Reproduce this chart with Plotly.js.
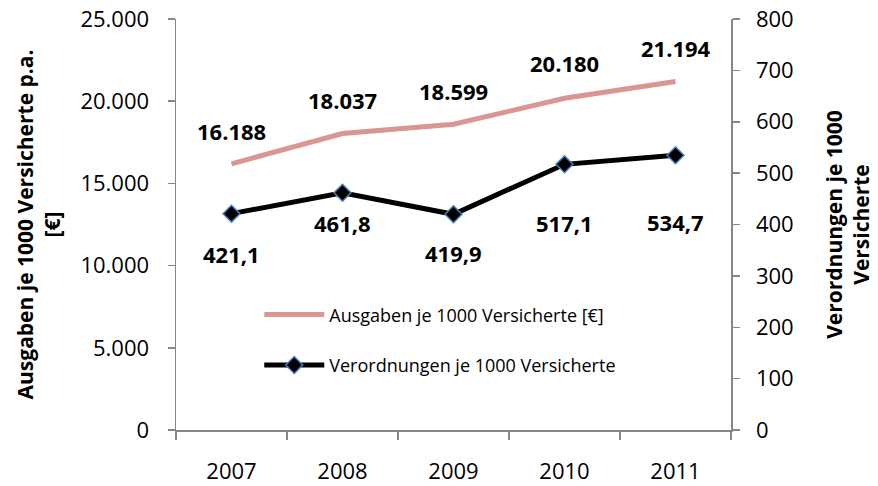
<!DOCTYPE html>
<html><head><meta charset="utf-8">
<script src="https://cdn.plot.ly/plotly-3.0.1.min.js"></script>
<style>html,body{margin:0;padding:0;background:#fff}#chart{width:878px;height:486px}</style>
</head><body><div id="chart"></div>
<script>
const years = ['2007','2008','2009','2010','2011'];
const ausgaben = [16188, 18037, 18599, 20180, 21194];
const verordnungen = [421.1, 461.8, 419.9, 517.1, 534.7];
const nameAusgaben = 'Ausgaben je 1000 Versicherte [€]';
const nameVerordnungen = 'Verordnungen je 1000 Versicherte';

const FONT = 'Open Sans, Liberation Sans, sans-serif';
const axisGray = '#868686';
const ausShift = [33, 33, 33, 35, 34];
const verShift = [-40, -30, -39, -59, -67];

const traces = [
  {x: years, y: ausgaben, name: nameAusgaben, type: 'scatter', mode: 'lines',
   line: {color: '#d99694', width: 5}, legendgroup: 'a', hoverinfo: 'skip'},
  {x: years, y: verordnungen, name: nameVerordnungen, type: 'scatter', mode: 'lines+markers',
   yaxis: 'y2', line: {color: '#000000', width: 5}, legendgroup: 'b',
   marker: {symbol: 'diamond', size: 13, color: '#000000', line: {color: '#4a7ebb', width: 1.5}}, hoverinfo: 'skip'}
];

const fmtDE = (v, d) => {
  const s = v.toFixed(d).split('.');
  const int = s[0].replace(/\B(?=(\d{3})+(?!\d))/g, '.');
  return d > 0 ? int + ',' + s[1] : int;
};

const annotations = [];
years.forEach((yr, i) => {
  annotations.push({x: i, y: ausgaben[i], xref: 'x', yref: 'y', text: '<b>' + fmtDE(ausgaben[i], 0) + '</b>',
    showarrow: false, yshift: ausShift[i], font: {family: FONT, size: 22, color: '#000'}});
  annotations.push({x: i, y: verordnungen[i], xref: 'x', yref: 'y2', text: '<b>' + fmtDE(verordnungen[i], 1) + '</b>',
    showarrow: false, yshift: verShift[i], font: {family: FONT, size: 22, color: '#000'}});
});

const layout = {
  width: 878, height: 486,
  margin: {l: 176, r: 147, t: 19, b: 56},
  paper_bgcolor: '#fff', plot_bgcolor: '#fff',
  separators: ',.',
  font: {family: FONT, color: '#000'},
  showlegend: true,
  legend: {x: 0.15, y: 0.325, xanchor: 'left', yanchor: 'top', bgcolor: 'rgba(0,0,0,0)',
    font: {family: FONT, size: 18, color: '#000'}, tracegroupgap: 24, itemwidth: 60},
  xaxis: {type: 'category', range: [-0.5, 4.5], showline: true, linecolor: axisGray, linewidth: 1.5,
    ticks: 'outside', tickson: 'boundaries', ticklen: 8, tickcolor: axisGray, tickwidth: 1.5,
    showgrid: false, zeroline: false, tickfont: {family: FONT, size: 22, color: '#000'}, ticklabelstandoff: 21},
  yaxis: {range: [0, 25000], dtick: 5000, tickformat: ',.0f', showline: true, linecolor: axisGray, linewidth: 1.5,
    ticks: 'outside', ticklen: 7, tickcolor: axisGray, tickwidth: 1.5, showgrid: false, zeroline: false,
    tickfont: {family: FONT, size: 22, color: '#000'}, ticklabelstandoff: 14,
    title: {text: 'Ausgaben je 1000 Versicherte p.a.<br>[€]', font: {family: FONT, size: 21, color: '#000', weight: 'bold'}, standoff: 14}},
  yaxis2: {range: [0, 800], dtick: 100, overlaying: 'y', side: 'right', showline: true, linecolor: axisGray, linewidth: 1.5,
    ticks: 'outside', ticklen: 7, tickcolor: axisGray, tickwidth: 1.5, showgrid: false, zeroline: false,
    tickfont: {family: FONT, size: 22, color: '#000'}, ticklabelstandoff: 12,
    title: {text: 'Verordnungen je 1000<br>Versicherte', font: {family: FONT, size: 21, color: '#000', weight: 'bold'}, standoff: 34}},
  annotations: annotations
};

Plotly.newPlot('chart', traces, layout, {displayModeBar: false, staticPlot: true});
</script></body></html>
